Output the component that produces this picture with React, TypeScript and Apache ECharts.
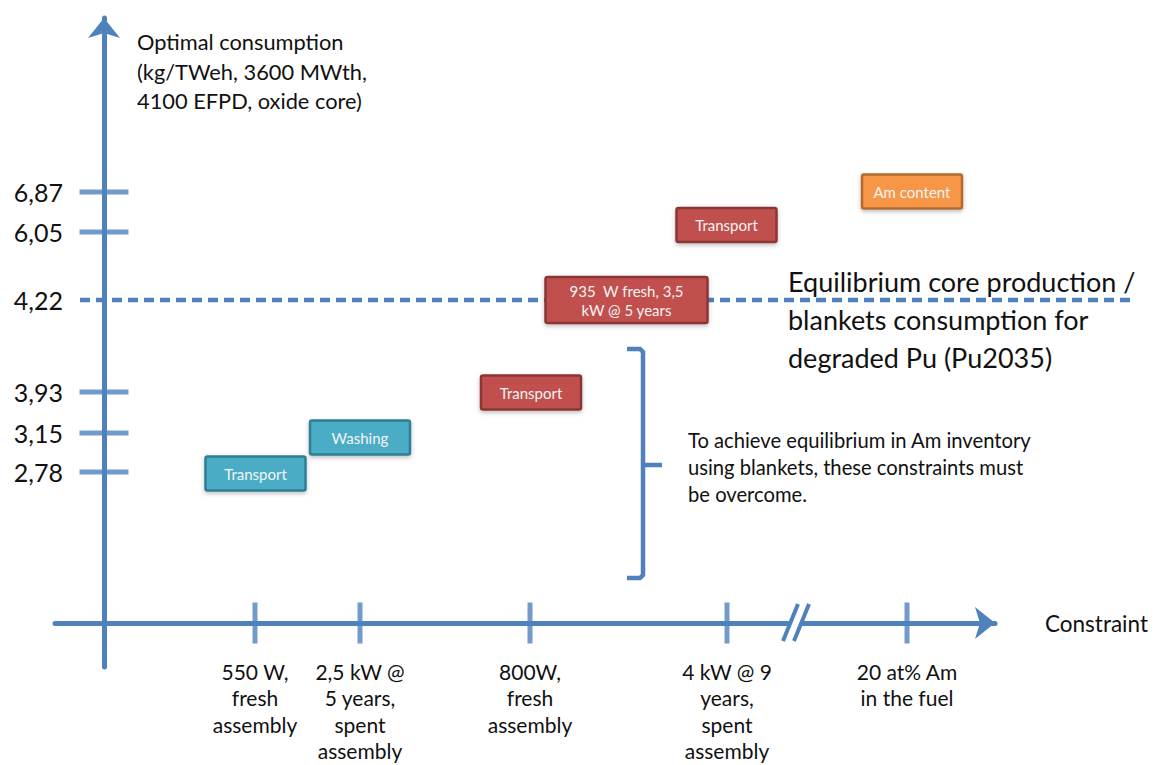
import React, { useEffect, useRef } from 'react';
import * as echarts from 'echarts';

// Constraint axis (schematic, non-proportional): labels and their position along the axis
const constraintLabels = [
  '550 W,\nfresh\nassembly',
  '2,5 kW @\n5 years,\nspent\nassembly',
  '800W,\nfresh\nassembly',
  '4 kW @ 9\nyears,\nspent\nassembly',
  '20 at% Am\nin the fuel',
];
const constraintPos = [1.51, 2.56, 4.26, 6.23, 8.03];

// Optimal consumption axis (schematic): tick labels and their position along the axis
const consumptionLabels = ['2,78', '3,15', '3,93', '4,22', '6,05', '6,87'];
const consumptionPos = [1.51, 1.9, 2.31, 3.23, 3.91, 4.31];

// Boxes placed on the diagram
const boxLabels = ['Transport', 'Washing', 'Transport', '935  W fresh, 3,5\nkW @ 5 years', 'Transport', 'Am content'];
const boxX = [1.515, 2.56, 4.27, 5.225, 6.225, 8.08];
const boxY = [1.495, 1.855, 2.305, 3.23, 3.98, 4.315];
const boxKind = ['cyan', 'cyan', 'red', 'red', 'red', 'orange'];

const equilibriumLabel = '4,22';
const equilibriumSpan = [-0.24, 10.27];
const axisBreakAt = 6.92;

const FONT = 'Lato, "Noto Sans", sans-serif';
const BLUE = '#4f81bd';
const TEXT = '#111';
const kindStyle: Record<string, { color: string; borderColor: string }> = {
  cyan: { color: '#4bacc6', borderColor: '#2f7f93' },
  red: { color: '#c0504d', borderColor: '#8b3634' },
  orange: { color: '#f79646', borderColor: '#b36b2e' },
};

function nearestLabel(v: number, pos: number[], labels: string[]) {
  let best = -1;
  let bd = Infinity;
  pos.forEach((p, i) => {
    const d = Math.abs(p - v);
    if (d < bd) {
      bd = d;
      best = i;
    }
  });
  return bd < 1e-6 && best >= 0 ? labels[best] : '';
}

export default function App() {
  const ref = useRef<HTMLDivElement>(null);
  useEffect(() => {
    if (!ref.current) return;
    const chart = echarts.init(ref.current, null, { renderer: 'svg' });
    const eqY = consumptionPos[consumptionLabels.indexOf(equilibriumLabel)];
    const axisLineStyle = { color: BLUE, width: 5 };

    const option: any = {
      animation: false,
      backgroundColor: '#ffffff',
      title: {
        text: 'Optimal consumption\n(kg/TWeh, 3600 MWth,\n4100 EFPD, oxide core)',
        left: 137,
        top: 27,
        padding: 0,
        textStyle: { fontFamily: FONT, fontSize: 21.8, lineHeight: 29.5, fontWeight: 'normal', color: TEXT },
      },
      grid: { left: 55, right: 162, top: 18, bottom: 98, containLabel: false, outerBoundsMode: 'none' },
      xAxis: {
        type: 'value',
        min: -0.49,
        max: 8.91,
        name: 'Constraint',
        nameLocation: 'end',
        nameGap: 50,
        nameTextStyle: { fontFamily: FONT, fontSize: 22.5, color: TEXT, align: 'left', verticalAlign: 'middle' },
        axisLine: { onZero: true, symbol: ['none', 'arrow'], symbolSize: [24, 20], lineStyle: axisLineStyle },
        axisTick: { show: false },
        splitLine: { show: false },
        axisLabel: {
          customValues: constraintPos,
          formatter: (v: number) => nearestLabel(v, constraintPos, constraintLabels),
          margin: -9,
          fontFamily: FONT,
          fontSize: 21,
          lineHeight: 26.5,
          color: TEXT,
          align: 'center',
        },
      },
      yAxis: {
        type: 'value',
        min: -0.44,
        max: 6.05,
        axisLine: { onZero: true, symbol: ['none', 'arrow'], symbolSize: [24, 20], lineStyle: axisLineStyle },
        axisTick: { show: false },
        splitLine: { show: false },
        axisLabel: {
          customValues: consumptionPos,
          formatter: (v: number) => nearestLabel(v, consumptionPos, consumptionLabels),
          margin: -8,
          fontFamily: FONT,
          fontSize: 25,
          color: TEXT,
        },
      },
      series: [
        {
          type: 'custom',
          silent: true,
          clip: false,
          z: 1,
          data: [[equilibriumSpan[0], equilibriumSpan[1], eqY]],
          renderItem: (_params: any, api: any) => {
            const a = api.coord([api.value(0), api.value(2)]);
            const b = api.coord([api.value(1), api.value(2)]);
            return {
              type: 'line',
              shape: { x1: a[0], y1: a[1], x2: b[0], y2: b[1] },
              style: { stroke: BLUE, lineWidth: 4.5, lineDash: [10, 6], fill: 'none' },
            };
          },
        },
        {
          type: 'scatter',
          silent: true,
          symbol: 'rect',
          symbolSize: [5, 41],
          z: 2,
          itemStyle: { color: BLUE },
          data: constraintPos.map((x) => [x, 0]),
        },
        {
          type: 'scatter',
          silent: true,
          symbol: 'rect',
          symbolSize: [49, 5],
          z: 2,
          itemStyle: { color: BLUE },
          data: consumptionPos.filter((_, i) => consumptionLabels[i] !== equilibriumLabel).map((y) => [0, y]),
        },
        {
          type: 'custom',
          silent: true,
          z: 5,
          clip: false,
          data: boxLabels.map((_, i) => [boxX[i], boxY[i], i]),
          renderItem: (_params: any, api: any) => {
            const p = api.coord([api.value(0), api.value(1)]);
            const i = api.value(2) as number;
            const name = boxLabels[i];
            const two = name.includes('\n');
            const w = two ? 162 : 100;
            const h = two ? 46 : 34;
            const st = kindStyle[boxKind[i]];
            return {
              type: 'rect',
              shape: { x: p[0] - w / 2, y: p[1] - h / 2, width: w, height: h, r: 2 },
              style: {
                fill: st.color,
                stroke: st.borderColor,
                lineWidth: 2.5,
                shadowBlur: 4,
                shadowColor: 'rgba(0,0,0,0.25)',
                shadowOffsetY: 2,
              },
              textContent: {
                style: {
                  text: name,
                  fill: '#f4f4f4',
                  fontFamily: FONT,
                  fontSize: 15,
                  lineHeight: 19,
                  align: 'center',
                  verticalAlign: 'middle',
                },
              },
              textConfig: { position: 'inside' },
            };
          },
        },
      ],
    };
    chart.setOption(option);

    const px = (x: number, y: number) => chart.convertToPixel({ gridIndex: 0 }, [x, y]) as number[];
    const c = px(axisBreakAt, 0);
    const bTop = px(5.39, 2.74);
    const bBot = px(5.39, 0.45);
    const bMid = px(5.39, 1.58);

    chart.setOption({
      graphic: [
        {
          type: 'polygon',
          silent: true,
          z: 10,
          shape: {
            points: [
              [c[0] - 7.5, c[1] + 5],
              [c[0] + 3.5, c[1] + 5],
              [c[0] + 7.5, c[1] - 5],
              [c[0] - 3.5, c[1] - 5],
            ],
          },
          style: { fill: '#ffffff' },
        },
        {
          type: 'line',
          silent: true,
          z: 11,
          shape: { x1: c[0] - 13, y1: c[1] + 18, x2: c[0] + 2, y2: c[1] - 19 },
          style: { stroke: BLUE, lineWidth: 4 },
        },
        {
          type: 'line',
          silent: true,
          z: 11,
          shape: { x1: c[0] - 2, y1: c[1] + 18, x2: c[0] + 13, y2: c[1] - 19 },
          style: { stroke: BLUE, lineWidth: 4 },
        },
        {
          type: 'polyline',
          silent: true,
          z: 10,
          shape: {
            points: [
              [bTop[0] - 16, bTop[1]],
              [bTop[0] - 3, bTop[1]],
              [bTop[0], bTop[1] + 3],
              [bBot[0], bBot[1] - 3],
              [bBot[0] - 3, bBot[1]],
              [bBot[0] - 16, bBot[1]],
            ],
          },
          style: { stroke: BLUE, lineWidth: 4.5, fill: 'none' },
        },
        {
          type: 'line',
          silent: true,
          z: 10,
          shape: { x1: bMid[0], y1: bMid[1], x2: bMid[0] + 19, y2: bMid[1] },
          style: { stroke: BLUE, lineWidth: 4.5 },
        },
        {
          type: 'text',
          silent: true,
          z: 12,
          x: 788,
          y: 262,
          style: {
            text: 'Equilibrium core production /\nblankets consumption for\ndegraded Pu (Pu2035)',
            fontFamily: FONT,
            fontSize: 27,
            lineHeight: 38,
            fill: TEXT,
            verticalAlign: 'top',
          },
        },
        {
          type: 'text',
          silent: true,
          z: 12,
          x: 688,
          y: 426.5,
          style: {
            text: 'To achieve equilibrium in Am inventory\nusing blankets, these constraints must\nbe overcome.',
            fontFamily: FONT,
            fontSize: 20.2,
            lineHeight: 27,
            fill: TEXT,
            verticalAlign: 'top',
          },
        },
      ],
    });

    return () => chart.dispose();
  }, []);

  return <div ref={ref} style={{ position: 'absolute', left: 0, top: 0, width: 1157, height: 765 }} />;
}
